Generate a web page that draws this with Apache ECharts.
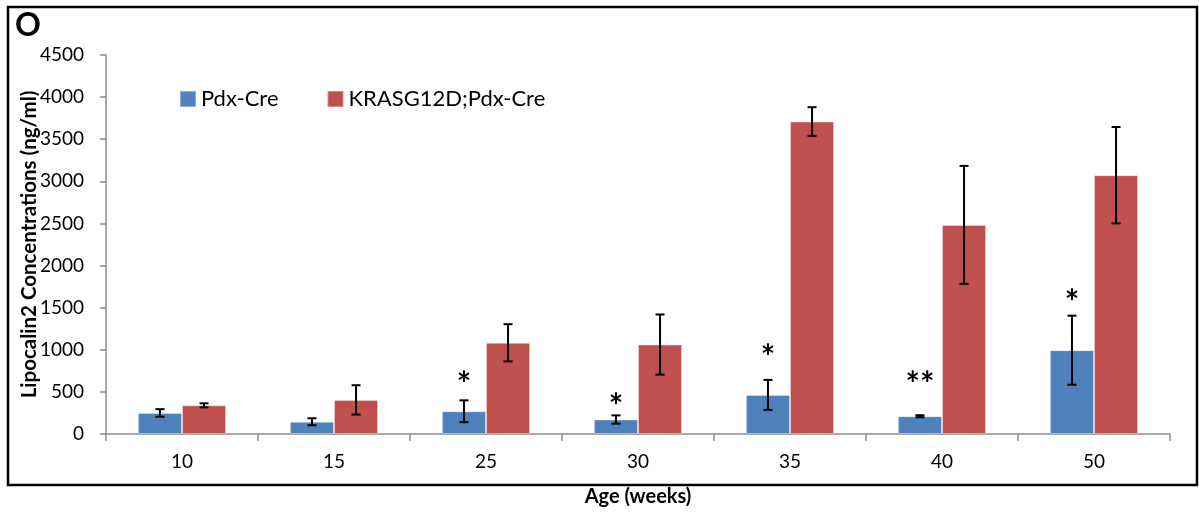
<!DOCTYPE html>
<html>
<head>
<meta charset="utf-8">
<script src="https://cdn.jsdelivr.net/npm/echarts@6/dist/echarts.min.js"></script>
<style>
html,body{margin:0;padding:0;background:#fff;}
#chart{width:1199px;height:515px;}
</style>
</head>
<body>
<div id="chart"></div>
<script>
const categories = ['10', '15', '25', '30', '35', '40', '50'];
const pdxMean = [250, 145, 270, 172, 464, 211, 995];
const pdxErr = [45, 42, 130, 49, 178, 12, 410];
const krasMean = [340, 405, 1083, 1062, 3710, 2483, 3073];
const krasErr = [24, 174, 221, 357, 170, 700, 572];
const sigMarks = ['', '', '*', '*', '*', '**', '*'];
const sigHeights = [null, null, 675, 414, 994, 675, 1645];
const yTicks = [0, 500, 1000, 1500, 2000, 2500, 3000, 3500, 4000, 4500];

const BAR_CAT_GAP = 0.42;
const FONT = 'Lato, "Open Sans", sans-serif';

function errRender(sign) {
  return function (params, api) {
    const i = api.value(0);
    const lo = api.value(1), hi = api.value(2);
    const catW = api.size([1, 0])[0];
    const bw = catW * (1 - BAR_CAT_GAP) / 2;
    const x = api.coord([i, 0])[0] + sign * bw / 2;
    const yHi = api.coord([i, hi])[1];
    const yLo = api.coord([i, lo])[1];
    const cap = 4.5;
    const st = { stroke: '#000', lineWidth: 2 };
    return {
      type: 'group',
      children: [
        { type: 'line', shape: { x1: x, y1: yHi, x2: x, y2: yLo }, style: st },
        { type: 'line', shape: { x1: x - cap, y1: yHi, x2: x + cap, y2: yHi }, style: st },
        { type: 'line', shape: { x1: x - cap, y1: yLo, x2: x + cap, y2: yLo }, style: st }
      ]
    };
  };
}

function sigRender(params, api) {
  const i = api.value(0);
  const h = api.value(1);
  const catW = api.size([1, 0])[0];
  const bw = catW * (1 - BAR_CAT_GAP) / 2;
  const p = api.coord([i, h]);
  return {
    type: 'text',
    style: {
      x: p[0] - bw / 2,
      y: p[1] + 8,
      text: sigMarks[i],
      font: 'bold 34px ' + FONT,
      fill: '#000',
      align: 'center',
      verticalAlign: 'middle'
    }
  };
}

const sigData = [];
categories.forEach((c, i) => { if (sigMarks[i]) sigData.push([i, sigHeights[i]]); });

const chart = echarts.init(document.getElementById('chart'), null, { renderer: 'canvas' });
chart.setOption({
  backgroundColor: '#fff',
  animation: false,
  textStyle: { fontFamily: FONT },
  title: {
    text: 'O', left: 10, top: 5,
    textStyle: { fontSize: 32, fontWeight: 'bold', color: '#000', fontFamily: FONT }
  },
  graphic: [{
    type: 'rect', z: -1,
    shape: { x: 8, y: 7, width: 1189, height: 478 },
    style: { fill: 'none', stroke: '#000', lineWidth: 2.5 }
  }],
  legend: {
    data: ['Pdx-Cre', 'KRASG12D;Pdx-Cre'],
    left: 174, top: 83,
    icon: 'rect', itemWidth: 16, itemHeight: 16, itemGap: 48,
    textStyle: { fontSize: 22, color: '#000', fontFamily: FONT }
  },
  grid: { left: 106, right: 29, top: 55, bottom: 81 },
  xAxis: {
    type: 'category',
    data: categories,
    name: 'Age (weeks)',
    nameLocation: 'middle',
    nameGap: 53,
    nameMoveOverlap: false,
    nameTextStyle: { fontSize: 20, fontWeight: 'bold', color: '#000' },
    axisLine: { lineStyle: { color: '#8c8c8c', width: 1.5 } },
    axisTick: { show: true, length: 7, lineStyle: { color: '#8c8c8c', width: 1.5 } },
    axisLabel: { fontSize: 19, color: '#000', margin: 18 }
  },
  yAxis: {
    type: 'value',
    min: yTicks[0], max: yTicks[yTicks.length - 1], interval: 500,
    name: 'Lipocalin2 Concentrations (ng/ml)',
    nameLocation: 'middle',
    nameGap: 66,
    nameMoveOverlap: false,
    nameTextStyle: { fontSize: 20.5, fontWeight: 'bold', color: '#000' },
    splitLine: { show: false },
    axisLine: { show: true, lineStyle: { color: '#8c8c8c', width: 1.5 } },
    axisTick: { show: true, length: 6, lineStyle: { color: '#8c8c8c', width: 1.5 } },
    axisLabel: { fontSize: 19, color: '#000', margin: 22, formatter: v => String(v) }
  },
  series: [
    {
      name: 'Pdx-Cre', type: 'bar', data: pdxMean,
      barGap: '0%', barCategoryGap: (BAR_CAT_GAP * 100) + '%',
      itemStyle: { color: '#4F81BD', borderColor: 'rgba(255,255,255,0.35)', borderWidth: 1 }
    },
    {
      name: 'KRASG12D;Pdx-Cre', type: 'bar', data: krasMean,
      barGap: '0%', barCategoryGap: (BAR_CAT_GAP * 100) + '%',
      itemStyle: { color: '#C0504D', borderColor: 'rgba(255,255,255,0.35)', borderWidth: 1 }
    },
    {
      name: 'pdxErr', type: 'custom', z: 5,
      renderItem: errRender(-1),
      encode: { x: 0, y: [1, 2] },
      data: pdxMean.map((m, i) => [i, m - pdxErr[i], m + pdxErr[i]])
    },
    {
      name: 'krasErr', type: 'custom', z: 5,
      renderItem: errRender(1),
      encode: { x: 0, y: [1, 2] },
      data: krasMean.map((m, i) => [i, m - krasErr[i], m + krasErr[i]])
    },
    {
      name: 'sig', type: 'custom', z: 6,
      renderItem: sigRender,
      encode: { x: 0, y: 1 },
      data: sigData
    }
  ]
});
</script>
</body>
</html>
